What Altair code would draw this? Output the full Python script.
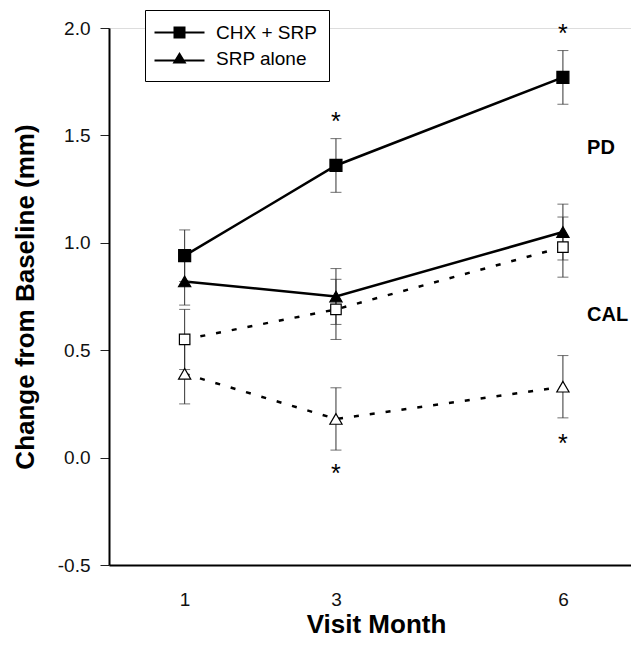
import altair as alt
import pandas as pd

# ---- data ----
months = [1, 3, 6]
chx_pd = [0.94, 1.36, 1.77]
chx_pd_se = [0.12, 0.125, 0.125]
srp_pd = [0.82, 0.75, 1.05]
srp_pd_se = [0.11, 0.13, 0.13]
chx_cal = [0.55, 0.69, 0.98]
chx_cal_se = [0.14, 0.14, 0.14]
srp_cal = [0.39, 0.18, 0.33]
srp_cal_se = [0.14, 0.145, 0.145]

star_months = [3, 6, 3, 6]
star_y = [1.59, 2.0, -0.05, 0.09]

label_text = ["PD", "CAL"]
label_month = [6.32, 6.32]
label_y = [1.44, 0.665]

groups = ["CHX + SRP", "SRP alone"]
y_ticks = [-0.5, 0.0, 0.5, 1.0, 1.5, 2.0]
x_ticks = [1, 3, 6]

FONT = "Liberation Sans"

rows = []
for key, grp, meas, vals, ses in [
    ("chx_pd", groups[0], "PD", chx_pd, chx_pd_se),
    ("srp_pd", groups[1], "PD", srp_pd, srp_pd_se),
    ("chx_cal", groups[0], "CAL", chx_cal, chx_cal_se),
    ("srp_cal", groups[1], "CAL", srp_cal, srp_cal_se),
]:
    for m, v, s in zip(months, vals, ses):
        rows.append({"series": key, "group": grp, "measure": meas, "month": m,
                     "value": v, "lo": v - s, "hi": v + s})
df = pd.DataFrame(rows)
stars = pd.DataFrame({"month": star_months, "value": star_y})
labels = pd.DataFrame({"month": label_month, "value": label_y, "text": label_text})

xscale = alt.Scale(domain=[0, 6.9], padding=0, nice=False, zero=False)
yscale = alt.Scale(domain=[-0.5, 2.0], padding=0, nice=False, zero=False)

x_enc = alt.X("month:Q", scale=xscale, title="Visit Month",
              axis=alt.Axis(values=x_ticks, format="d", ticks=False, grid=False,
                            domainWidth=2, domainColor="black",
                            labelFontSize=19, labelFont=FONT, labelColor="#111",
                            labelPadding=25,
                            titleFontSize=26, titleFont=FONT, titleFontWeight="bold",
                            titleColor="black", titleBaseline="alphabetic",
                            titleY=67, titleX=267))
y_enc = alt.Y("value:Q", scale=yscale, title="Change from Baseline (mm)",
              axis=alt.Axis(values=y_ticks, format=".1f", grid=False,
                            labelExpr="replace(datum.label, '\u2212', '-')",
                            tickSize=9, tickWidth=1, tickColor="#222",
                            domainWidth=2, domainColor="black",
                            labelFontSize=19, labelFont=FONT, labelColor="#111",
                            labelPadding=10,
                            titleFontSize=26, titleFont=FONT, titleFontWeight="bold",
                            titleColor="black", titleX=-84, titleBaseline="middle"))

base = alt.Chart(df)

pd_lines = base.transform_filter(alt.datum.measure == "PD").mark_line(
    color="black", strokeWidth=2.5).encode(x=x_enc, y=y_enc, detail="group:N")
cal_lines = base.transform_filter(alt.datum.measure == "CAL").mark_line(
    color="black", strokeWidth=2.5, strokeDash=[5, 11]).encode(
    x="month:Q", y="value:Q", detail="group:N")

err = base.mark_rule(color="#333", strokeWidth=1).encode(
    x="month:Q", y="lo:Q", y2="hi:Q")
cap_lo = base.mark_tick(orient="horizontal", size=11, thickness=1, color="#333").encode(
    x="month:Q", y="lo:Q")
cap_hi = base.mark_tick(orient="horizontal", size=11, thickness=1, color="#333").encode(
    x="month:Q", y="hi:Q")

def pts(key, shape, size, fill):
    return base.transform_filter(alt.datum.series == key).mark_point(
        shape=shape, size=size, filled=True, fill=fill, stroke="black",
        strokeWidth=1.2, opacity=1).encode(x="month:Q", y="value:Q")

m1 = pts("chx_pd", "square", 144, "black")
m2 = pts("srp_pd", "triangle-up", 150, "black")
m3 = pts("chx_cal", "square", 110, "white")
m4 = pts("srp_cal", "triangle-up", 150, "white")

star_layer = alt.Chart(stars).mark_text(
    text="*", fontSize=25, font=FONT, color="black", baseline="alphabetic", dy=14).encode(
    x="month:Q", y="value:Q")

label_layer = alt.Chart(labels).mark_text(
    fontSize=20, font=FONT, fontWeight="bold", color="black", align="left",
    baseline="middle").encode(x="month:Q", y="value:Q", text="text:N")

# legend symbols: a short line (thin filled bar) with the marker on it
sq_path = "M-2.5,-0.1H2.5V0.1H-2.5Z M-0.6,-0.6H0.6V0.6H-0.6Z"
tri_path = "M-2.5,0.1H2.5V0.3H-2.5Z M0,-0.65L0.7,0.5H-0.7Z"

legend_layer = base.transform_filter("false").mark_point(
    filled=True, fill="black", stroke="black", strokeWidth=0.5, opacity=1).encode(
    x="month:Q", y="value:Q",
    shape=alt.Shape("group:N", scale=alt.Scale(domain=groups, range=[sq_path, tri_path]),
                    legend=alt.Legend(title=None, orient="none", legendX=36, legendY=-18,
                                      strokeColor="black", fillColor="white",
                                      padding=12, symbolOffset=12, labelOffset=26,
                                      rowPadding=5, labelFontSize=19, labelFont=FONT,
                                      labelColor="black", symbolSize=400,
                                      symbolStrokeWidth=0.5, symbolFillColor="black",
                                      symbolStrokeColor="black", symbolOpacity=1)))

chart = alt.layer(
    pd_lines, cal_lines, err, cap_lo, cap_hi, m1, m2, m3, m4,
    star_layer, label_layer, legend_layer
).properties(
    width=522, height=537,
    autosize=alt.AutoSizeParams(type="none"),
    padding={"left": 101, "top": 20, "right": 0, "bottom": 74},
).configure_view(stroke=None).configure(background="white")

chart.save("out.html", embed_options={"renderer": "svg", "actions": False})
